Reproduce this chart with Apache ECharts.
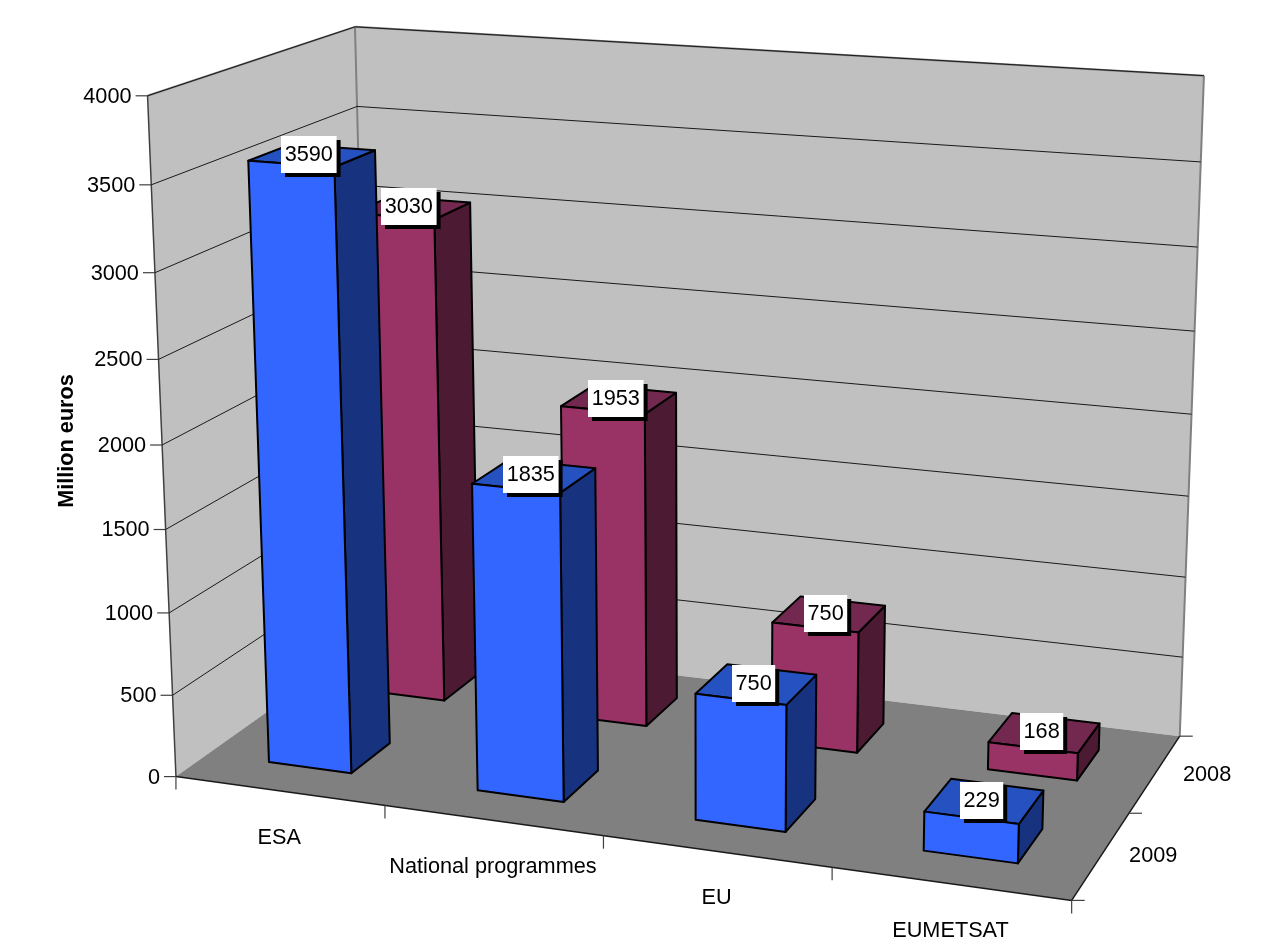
<!DOCTYPE html>
<html>
<head>
<meta charset="utf-8">
<title>Million euros</title>
<script src="https://cdn.jsdelivr.net/npm/echarts@6/dist/echarts.min.js"></script>
<style>
  html, body { margin: 0; background: #fff; }
  #main { width: 1284px; height: 946px; }
</style>
</head>
<body>
<div id="main"></div>
<script>
// data
const categories = ['ESA', 'National programmes', 'EU', 'EUMETSAT'];
const years = ['2009', '2008'];          // front row first
const values2009 = [3590, 1835, 750, 229];
const values2008 = [3030, 1953, 750, 168];
const yTicks = [0, 500, 1000, 1500, 2000, 2500, 3000, 3500, 4000];
const yMax = 4000;

const FONT = '21.7px "Liberation Sans", Arial, sans-serif';
const GRID = { left: 148, top: 95, width: 900, height: 692 };
const BAR_GAP = 0.3; // gap on each side of a bar, in category / row units
const COLORS = [
  { front: '#3366ff', side: '#17327f', top: '#2651c0' },
  { front: '#993366', side: '#4d1a33', top: '#732850' }
];

// the picture's perspective camera: [u (0-4), row (0-2), height (0-1)] -> pixel on the chart
const cameraAnchors = [
  [0, 0, 0, 176, 777], [0, 0, 0, 176, 777], [4, 0, 0, 1071.5, 899], [4, 2, 0, 1180, 736.5], [0, 2, 0, 372, 637],
  [0, 0, 1, 148, 96], [0, 2, 1, 354, 27], [4, 2, 1, 1204, 75],
  [1, 0, 0, 384, 806], [4, 1, 0, 1130, 813], [0, 0, 0.5, 162, 444],
  [0, 0, 0.875, 152, 185], [0, 0, 0.125, 172, 696],
  [4, 2, 0.5, 1191.5, 415], [4, 2, 0.875, 1201, 162], [4, 2, 0.125, 1181.5, 658]
];

function solveCamera(anchors) {
  const n = 11;
  const ata = [];
  for (let i = 0; i < n; i++) ata.push(new Array(n + 1).fill(0));
  const addRow = (row, rhs) => {
    for (let i = 0; i < n; i++) {
      for (let j = 0; j < n; j++) ata[i][j] += row[i] * row[j];
      ata[i][n] += row[i] * rhs;
    }
  };
  anchors.forEach(a => {
    const U = a[0] / 4, V = a[1] / 2, W = a[2], x = a[3], y = a[4];
    addRow([U, V, W, 1, 0, 0, 0, 0, -x * U, -x * V, -x * W], x);
    addRow([0, 0, 0, 0, U, V, W, 1, -y * U, -y * V, -y * W], y);
  });
  for (let c = 0; c < n; c++) {
    let best = c;
    for (let r = c + 1; r < n; r++) if (Math.abs(ata[r][c]) > Math.abs(ata[best][c])) best = r;
    const tmp = ata[c]; ata[c] = ata[best]; ata[best] = tmp;
    for (let r = 0; r < n; r++) {
      if (r === c) continue;
      const f = ata[r][c] / ata[c][c];
      for (let k = c; k <= n; k++) ata[r][k] -= f * ata[c][k];
    }
  }
  return ata.map((r, i) => r[n] / r[i]);
}
const cam = solveCamera(cameraAnchors);

function project(u, row, h) {
  const U = u / 4, V = row / 2;
  const d = cam[8] * U + cam[9] * V + cam[10] * h + 1;
  return [
    (cam[0] * U + cam[1] * V + cam[2] * h + cam[3]) / d,
    (cam[4] * U + cam[5] * V + cam[6] * h + cam[7]) / d
  ];
}

// read value and category through the echarts axes, then put the result through the camera
function place(api, cat, offset, value, row) {
  const p = api.coord([cat, value]);
  const band = api.size([1, 0])[0];
  const u = (p[0] - GRID.left) / band - 0.5 + offset;
  const h = (GRID.top + GRID.height - p[1]) / GRID.height;
  return project(u, row, h);
}

function poly(points, fill, stroke, lineWidth) {
  return { type: 'polygon', shape: { points: points },
    style: { fill: fill, stroke: stroke || null, lineWidth: lineWidth || 0, lineJoin: 'round' } };
}
function line(a, b, stroke, lineWidth) {
  return { type: 'line', shape: { x1: a[0], y1: a[1], x2: b[0], y2: b[1] },
    style: { stroke: stroke, lineWidth: lineWidth } };
}
function label(text, x, y, align) {
  return { type: 'text', style: { text: text, x: x, y: y + 1, fill: '#000', font: FONT,
    align: align || 'center', verticalAlign: 'middle' } };
}

// walls, floor and the axis lines
function renderFrame(params, api) {
  const last = categories.length - 1;
  const a = (c, o, v, r) => place(api, c, o, v, r);
  const fl = a(0, 0, 0, 0), fr = a(last, 1, 0, 0), br = a(last, 1, 0, 2), bl = a(0, 0, 0, 2);
  const tfl = a(0, 0, yMax, 0), tbl = a(0, 0, yMax, 2), tbr = a(last, 1, yMax, 2);
  const children = [
    poly([fl, tfl, tbl, bl], '#c0c0c0'),
    poly([bl, tbl, tbr, br], '#c0c0c0'),
    poly([fl, fr, br, bl], '#808080'),
    line(tfl, tbl, '#808080', 2), line(tbl, tbr, '#808080', 2),
    line(tbr, br, '#808080', 2), line(tbl, bl, '#808080', 2),
    line(fl, tfl, '#404040', 1.5),
    line(fl, fr, '#1a1a1a', 1.5), line(fr, br, '#1a1a1a', 1.5)
  ];
  for (let i = 0; i <= categories.length; i++) {
    const p = i < categories.length ? a(i, 0, 0, 0) : fr;
    children.push(line(p, [p[0], p[1] + 13], '#404040', 1.2));
  }
  for (let r = 0; r <= years.length; r++) {
    const p = a(last, 1, 0, r);
    children.push(line(p, [p[0] + 13, p[1]], '#404040', 1.2));
  }
  return { type: 'group', children: children };
}

function renderGridline(params, api) {
  const v = api.value(1);
  const last = categories.length - 1;
  const front = place(api, 0, 0, v, 0), corner = place(api, 0, 0, v, 2), right = place(api, last, 1, v, 2);
  const children = [line([front[0] - 12, front[1]], front, '#404040', 1.2)];
  if (v > 0) children.push(line(front, corner, '#1a1a1a', 1), line(corner, right, '#1a1a1a', 1));
  children.push(label(String(v), front[0] - 16, front[1], 'right'));
  return { type: 'group', children: children };
}

function barRenderer(row) {
  return function (params, api) {
    const c = api.value(0), v = api.value(1);
    const l = BAR_GAP, r = 1 - BAR_GAP;
    const vf = row + BAR_GAP, vb = row + 1 - BAR_GAP;
    const col = COLORS[row];
    const b1 = place(api, c, l, 0, vf), b2 = place(api, c, r, 0, vf), b3 = place(api, c, r, 0, vb);
    const t1 = place(api, c, l, v, vf), t2 = place(api, c, r, v, vf), t3 = place(api, c, r, v, vb), t4 = place(api, c, l, v, vb);
    return { type: 'group', children: [
      poly([b2, b3, t3, t2], col.side, '#000', 2),
      poly([t1, t2, t3, t4], col.top, '#000', 2),
      poly([b1, b2, t2, t1], col.front, '#000', 2)
    ] };
  };
}

function renderValueLabel(params, api) {
  const v = api.value(1), row = api.value(2);
  const p = place(api, api.value(0), 0.5, v, row + 0.5);
  const w = String(v).length * 12.4 + 6, h = 37;
  const x = Math.round(p[0] - w / 2) - 3, y = Math.round(p[1] - h / 2) - 1;
  return { type: 'group', children: [
    { type: 'rect', shape: { x: x + 4, y: y + 4, width: w, height: h }, style: { fill: '#000' } },
    { type: 'rect', shape: { x: x, y: y, width: w, height: h }, style: { fill: '#fff' } },
    label(String(v), x + w / 2, y + h / 2)
  ] };
}

function renderCategoryLabel(params, api) {
  const i = api.value(0);
  const p = place(api, i, 0.5, 0, 0);
  return label(categories[i], p[0], p[1] + 46);
}

function renderYearLabel(params, api) {
  const i = api.value(2);
  const p = place(api, categories.length - 1, 1, 0, i + 0.5);
  return label(years[i], p[0] + 52, p[1]);
}

function customSeries(name, renderItem, data) {
  return { name: name, type: 'custom', coordinateSystem: 'cartesian2d', renderItem: renderItem,
    data: data, silent: true, animation: false, clip: false, encode: { x: 0, y: 1 } };
}

// painted back to front: rows from the back, bars from the right
const barData = values => values.map((v, i) => [i, v]).reverse();
const labelData = [];
values2009.forEach((v, i) => labelData.push([i, v, 0]));
values2008.forEach((v, i) => labelData.push([i, v, 1]));

const chart = echarts.init(document.getElementById('main'), null, { renderer: 'canvas' });
chart.setOption({
  animation: false,
  backgroundColor: '#fff',
  grid: GRID,
  xAxis: { type: 'category', data: categories, show: false },
  yAxis: {
    type: 'value', min: 0, max: yMax, interval: 500,
    name: 'Million euros', nameLocation: 'middle', nameGap: 70, nameRotate: 90,
    nameTextStyle: { color: '#000', fontSize: 21.7, fontWeight: 'bold', fontFamily: 'Liberation Sans' },
    axisLine: { show: false }, axisTick: { show: false }, axisLabel: { show: false }, splitLine: { show: false }
  },
  series: [
    customSeries('frame', renderFrame, [[0, 0]]),
    customSeries('gridlines', renderGridline, yTicks.map(v => [0, v])),
    customSeries(years[1], barRenderer(1), barData(values2008)),
    customSeries(years[0], barRenderer(0), barData(values2009)),
    customSeries('values', renderValueLabel, labelData),
    customSeries('categories', renderCategoryLabel, categories.map((c, i) => [i, 0])),
    customSeries('years', renderYearLabel, years.map((y, i) => [0, 0, i]))
  ]
});
</script>
</body>
</html>
